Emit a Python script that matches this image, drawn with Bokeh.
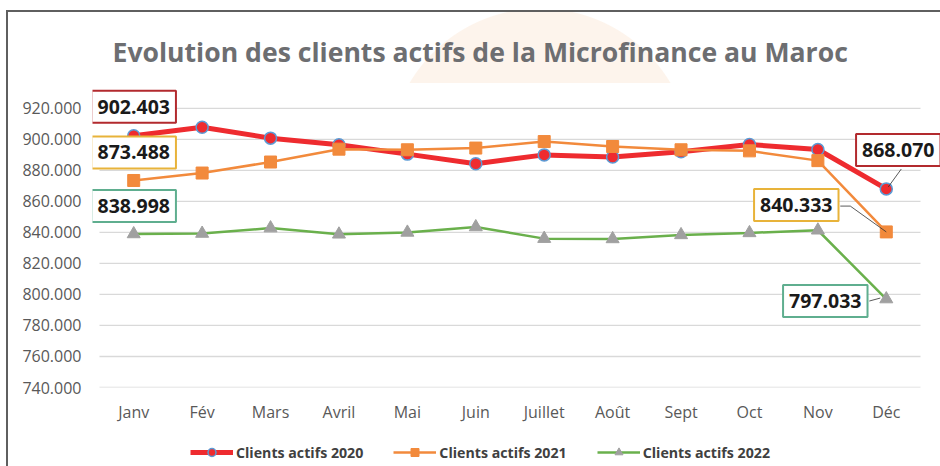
from bokeh.plotting import figure
from bokeh.layouts import column
from bokeh.models import (Range1d, FixedTicker, CustomJSTickFormatter,
                          Legend, LegendItem, Label, Title)
from bokeh.embed import file_html
from bokeh.resources import INLINE

# ---------------- data ----------------
months = ["Janv", "Fév", "Mars", "Avril", "Mai", "Juin", "Juillet", "Août",
          "Sept", "Oct", "Nov", "Déc"]
c2020 = [902403, 907800, 900800, 896500, 890500, 884300, 890000, 888600,
         892000, 896700, 893500, 868070]
c2021 = [873488, 878300, 885400, 893700, 893300, 894400, 898600, 895400,
         893300, 892600, 886300, 840333]
c2022 = [838998, 839300, 842800, 838800, 840000, 843500, 836000, 835800,
         838400, 839700, 841400, 797033]
series_names = ["Clients actifs 2020", "Clients actifs 2021", "Clients actifs 2022"]
y_ticks = list(range(740000, 920001, 20000))
title_text = "Evolution des clients actifs de la Microfinance au Maroc"

# ---------------- layout ----------------
W = 932
ML, MR, MT, MB = 84, 0, 74, 40
FH = 301
H = MT + FH + MB
LH = 454 - H
n = len(months)
px_x = 821 / n                       # pixels per category
Y0, Y1 = y_ticks[0], y_ticks[-1]
px_y = 281 / (Y1 - Y0)               # pixels per unit value
x_start = -7 / px_x
x_end = n + 20 / px_x
y_end = Y1 + 20 / px_y

xs = [i + 0.5 for i in range(n)]

p = figure(x_range=Range1d(x_start, x_end), y_range=Range1d(Y0, y_end),
           width=W, height=H, output_backend="svg", toolbar_location=None,
           min_border_left=ML, min_border_right=MR, min_border_top=MT,
           min_border_bottom=MB, title=None)
p.border_fill_color = None
p.background_fill_color = "white"
p.outline_line_color = None

t = Title(text=title_text, align="left", offset=20, text_font="Open Sans",
          text_font_size="26.6px", text_font_style="bold", text_color="#6d6e71",
          standoff=38)
p.add_layout(t, "above")

# axes
p.xaxis.ticker = FixedTicker(ticks=xs)
p.xaxis.formatter = CustomJSTickFormatter(args=dict(months=months),
                                          code="return months[Math.floor(tick)];")
p.yaxis.ticker = FixedTicker(ticks=y_ticks)
p.yaxis.formatter = CustomJSTickFormatter(code="return (tick/1000).toFixed(3);")
for ax in (p.xaxis[0], p.yaxis[0]):
    ax.axis_line_color = None
    ax.major_tick_line_color = None
    ax.minor_tick_line_color = None
    ax.major_tick_out = 0
    ax.major_tick_in = 0
    ax.minor_tick_out = 0
    ax.major_label_text_color = "#595959"
    ax.major_label_text_font = "Open Sans"
    ax.major_label_text_font_size = "16px"
p.yaxis.major_label_standoff = 11
p.xaxis.major_label_standoff = 13
p.xgrid.grid_line_color = None
p.ygrid.grid_line_color = None

# horizontal gridlines spanning the category area
p.segment(x0=[0] * len(y_ticks), x1=[n] * len(y_ticks), y0=y_ticks, y1=y_ticks,
          line_color="#d9d9d9", line_width=1.3)

# series styles
sty = [
    dict(line=dict(line_color="#EE2B2F", line_width=5),
         mark=dict(marker="circle", size=12, fill_color="#EE2B2F",
                   line_color="#5B9BD5", line_width=1.5)),
    dict(line=dict(line_color="#F28A3C", line_width=2.5),
         mark=dict(marker="square", size=12, fill_color="#F28A3C",
                   line_color="#F28A3C")),
    dict(line=dict(line_color="#6AB04C", line_width=2.5),
         mark=dict(marker="triangle", size=13, fill_color="#A0A0A0",
                   line_color="#A0A0A0")),
]
series = [c2020, c2021, c2022]
for vals, s in zip(series, sty):
    p.line(xs, vals, **s["line"])
    p.scatter(xs, vals, **s["mark"])


def fmt(v):
    return f"{v/1000:.3f}"


# leader lines (pixel offsets converted through the scales)
def leader(i, v, offs):
    lx = [xs[i] + dx / px_x for dx, dy in offs]
    ly = [v + dy / px_y for dx, dy in offs]
    p.line(lx, ly, line_color="#303030", line_width=0.8)


last = n - 1
leader(last, c2020[last], [(2, 2), (15, 20)])
leader(last, c2021[last], [(0, 0), (-36, 26), (-46, 26)])
leader(last, c2022[last], [(-6, 1), (-17, -2)])

# data labels
labels = [
    (0, c2020[0], 0, 29, "#B22A2E"),
    (0, c2021[0], 0, 28, "#E8B33A"),
    (0, c2022[0], 0, 28, "#5FAE8F"),
    (last, c2020[last], 12, 39, "#B22A2E"),
    (last, c2021[last], -90, 27, "#E8B33A"),
    (last, c2022[last], -61, -2, "#5FAE8F"),
]
for i, v, dx, dy, col in labels:
    p.add_layout(Label(x=xs[i], y=v, x_offset=dx, y_offset=dy, text=fmt(v),
                       text_align="center", text_baseline="middle",
                       text_font="Open Sans", text_font_size="19.5px",
                       text_font_style="bold", text_color="#1a1a1a",
                       border_line_color=col, border_line_width=2,
                       background_fill_color="white", padding=dict(x=6, y=9)))

# ---------------- legend strip ----------------
# same series drawn again (out of view) so the legend can show their glyphs
lf = figure(width=W, height=LH, output_backend="svg", toolbar_location=None,
            x_axis_type=None, y_axis_type=None, min_border=0,
            x_range=Range1d(0, 1), y_range=Range1d(0, 1))
lf.border_fill_color = None
lf.background_fill_color = None
lf.outline_line_color = None
lf.xgrid.grid_line_color = None
lf.ygrid.grid_line_color = None
items = []
for name, vals, s in zip(series_names, series, sty):
    rl = lf.line(xs, vals, **s["line"])
    rm = lf.scatter(xs, vals, **s["mark"])
    items.append(LegendItem(label=name, renderers=[rl, rm]))
legend = Legend(items=items, orientation="horizontal", location=(98, 4),
                glyph_width=43, glyph_height=20, label_height=20, label_standoff=3,
                spacing=30, padding=0, margin=0, border_line_color=None,
                background_fill_alpha=0, label_text_font="Open Sans",
                label_text_font_size="14.2px", label_text_font_style="bold",
                label_text_color="#404040")
lf.add_layout(legend, "center")

layout = column(p, lf, spacing=0)
layout.styles = {
    "margin-left": "6px",
    "margin-top": "10px",
    "border-top": "2px solid #5f5f5f",
    "border-left": "2px solid #5f5f5f",
    "background-image": "radial-gradient(circle 152px at 532px 148px, #fdf4ec 151px, rgba(255,255,255,0) 152px)",
    "background-size": "100% 71px",
    "background-repeat": "no-repeat",
}

open("out.html", "w").write(file_html(layout, INLINE))
